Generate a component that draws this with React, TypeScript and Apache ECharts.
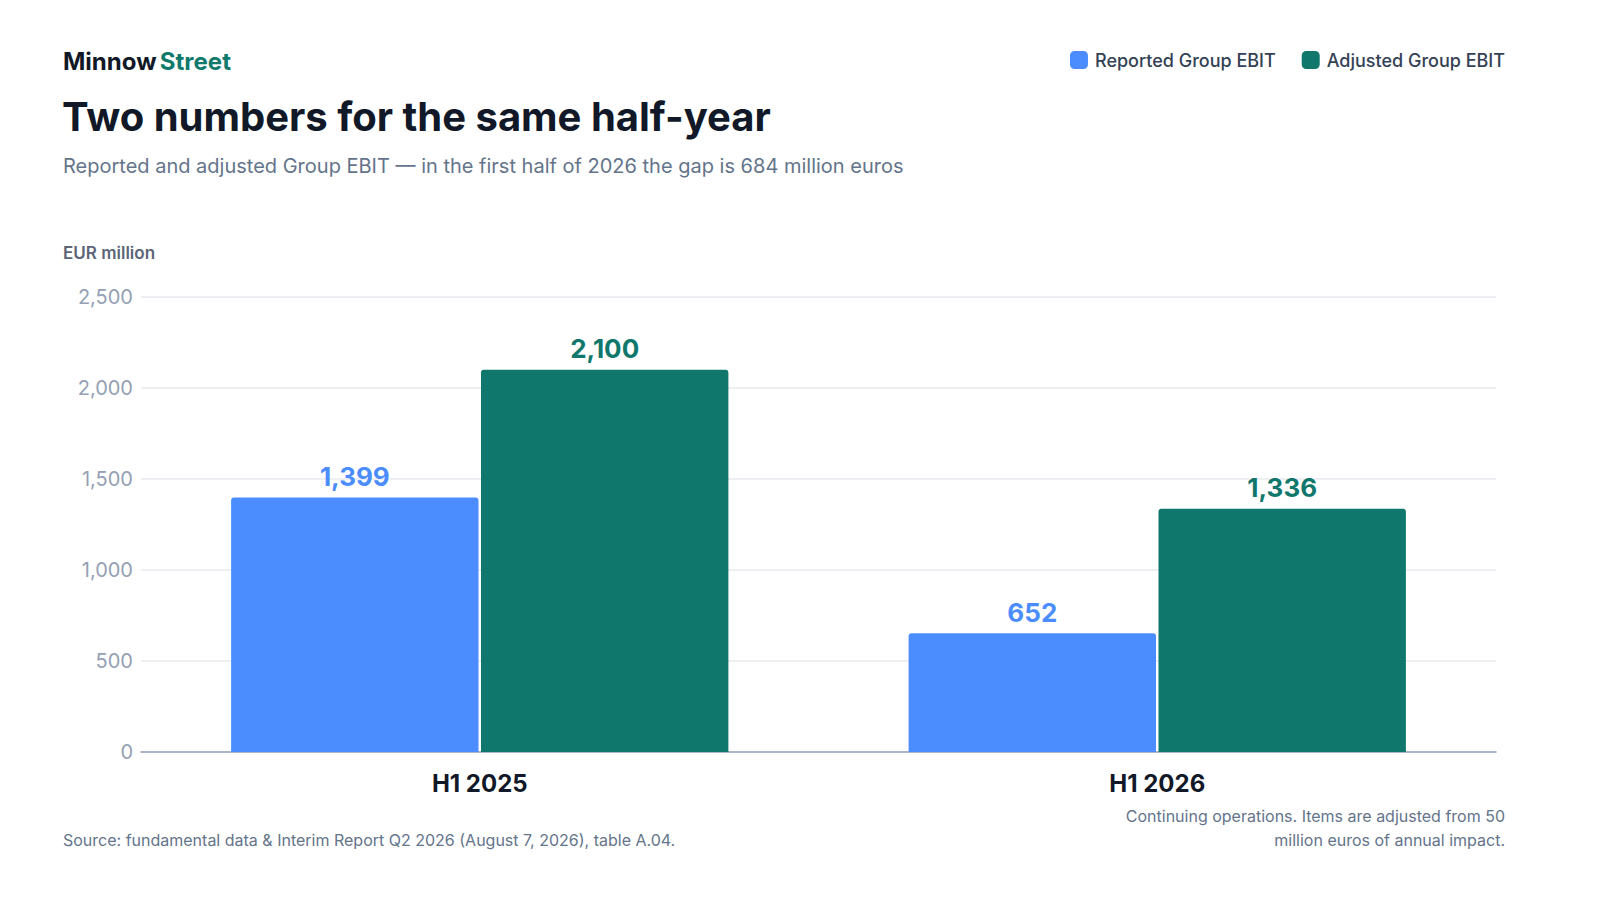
import React, { useEffect, useRef } from "react";
import * as echarts from "echarts";

const categories = ["H1 2025", "H1 2026"];
const reported = [1399, 652];
const adjusted = [2100, 1336];
const seriesNames = ["Reported Group EBIT", "Adjusted Group EBIT"];
const yTicks = [0, 500, 1000, 1500, 2000, 2500];
const footnoteLines = [
  "Continuing operations. Items are adjusted from 50",
  "million euros of annual impact.",
];

const FONT = "Inter, 'Noto Sans', sans-serif";
const BLUE = "#4b8dfe";
const GREEN = "#10776d";

export default function App() {
  const ref = useRef<HTMLDivElement>(null);
  useEffect(() => {
    document.body.style.margin = "0";
    const chart = echarts.init(ref.current!, null, { renderer: "svg" });
    const fmt = (v: number) => v.toLocaleString("en-US");
    chart.setOption({
      animation: false,
      backgroundColor: "#ffffff",
      textStyle: { fontFamily: FONT },
      graphic: [
        {
          type: "text",
          left: 63,
          top: 49,
          style: {
            text: "{a|Minnow} {b|Street}",
            rich: {
              a: { fontFamily: FONT, fontSize: 24, fontWeight: 700, fill: "#111827" },
              b: { fontFamily: FONT, fontSize: 24, fontWeight: 700, fill: "#0f7a6c" },
            },
          },
        },
        {
          type: "text",
          left: 62,
          top: 96,
          style: {
            text: "Two numbers for the same half-year",
            fontFamily: FONT,
            fontSize: 40,
            fontWeight: 700,
            fill: "#111827",
          },
        },
        {
          type: "text",
          left: 63,
          top: 156,
          style: {
            text: "Reported and adjusted Group EBIT — in the first half of 2026 the gap is 684 million euros",
            fontFamily: FONT,
            fontSize: 20,
            fill: "#64748b",
          },
        },
        {
          type: "text",
          left: 63,
          top: 244,
          style: {
            text: "EUR million",
            fontFamily: FONT,
            fontSize: 17,
            fontWeight: 600,
            fill: "#5b6577",
          },
        },
        {
          type: "text",
          left: 63,
          top: 832,
          style: {
            text: "Source: fundamental data & Interim Report Q2 2026 (August 7, 2026), table A.04.",
            fontFamily: FONT,
            fontSize: 16,
            fill: "#64748b",
          },
        },
        ...footnoteLines.map((t, i) => ({
          type: "text",
          right: 95,
          top: 808 + i * 24,
          style: {
            text: t,
            fontFamily: FONT,
            fontSize: 16,
            fill: "#64748b",
          },
        })),
      ],
      legend: {
        right: 95,
        top: 51,
        padding: 0,
        itemWidth: 18,
        itemHeight: 18,
        itemGap: 26,
        icon: "roundRect",
        data: seriesNames,
        textStyle: { fontFamily: FONT, fontSize: 18, color: "#334155", fontWeight: 500, padding: [0, 0, 0, 2] },
      },
      grid: { left: 141, right: 104, top: 297, bottom: 148 },
      xAxis: {
        type: "category",
        data: categories,
        axisTick: { show: false },
        axisLine: { lineStyle: { color: "#94a3b8", width: 1.5 } },
        axisLabel: {
          margin: 19,
          fontFamily: FONT,
          fontSize: 24,
          fontWeight: 700,
          color: "#111827",
        },
      },
      yAxis: {
        type: "value",
        min: yTicks[0],
        max: yTicks[yTicks.length - 1],
        interval: 500,
        axisLine: { show: false },
        axisTick: { show: false },
        splitLine: { lineStyle: { color: "#e8eaee", width: 1.5 } },
        axisLabel: {
          margin: 8,
          fontFamily: FONT,
          fontSize: 20,
          color: "#94a0b4",
          formatter: (v: number) => fmt(v),
        },
      },
      series: [
        {
          name: seriesNames[0],
          type: "bar",
          data: reported,
          barCategoryGap: "26.6%",
          barGap: "1%",
          itemStyle: { color: BLUE, borderRadius: [3, 3, 0, 0] },
          label: {
            show: true,
            position: "top",
            distance: 8,
            fontFamily: FONT,
            fontSize: 26,
            fontWeight: 700,
            color: BLUE,
            formatter: (p: any) => fmt(p.value),
          },
        },
        {
          name: seriesNames[1],
          type: "bar",
          data: adjusted,
          barCategoryGap: "26.6%",
          barGap: "1%",
          itemStyle: { color: GREEN, borderRadius: [3, 3, 0, 0] },
          label: {
            show: true,
            position: "top",
            distance: 8,
            fontFamily: FONT,
            fontSize: 26,
            fontWeight: 700,
            color: GREEN,
            formatter: (p: any) => fmt(p.value),
          },
        },
      ],
    });
    return () => chart.dispose();
  }, []);
  return <div ref={ref} style={{ width: 1600, height: 900, position: "absolute", left: 0, top: 0 }} />;
}
